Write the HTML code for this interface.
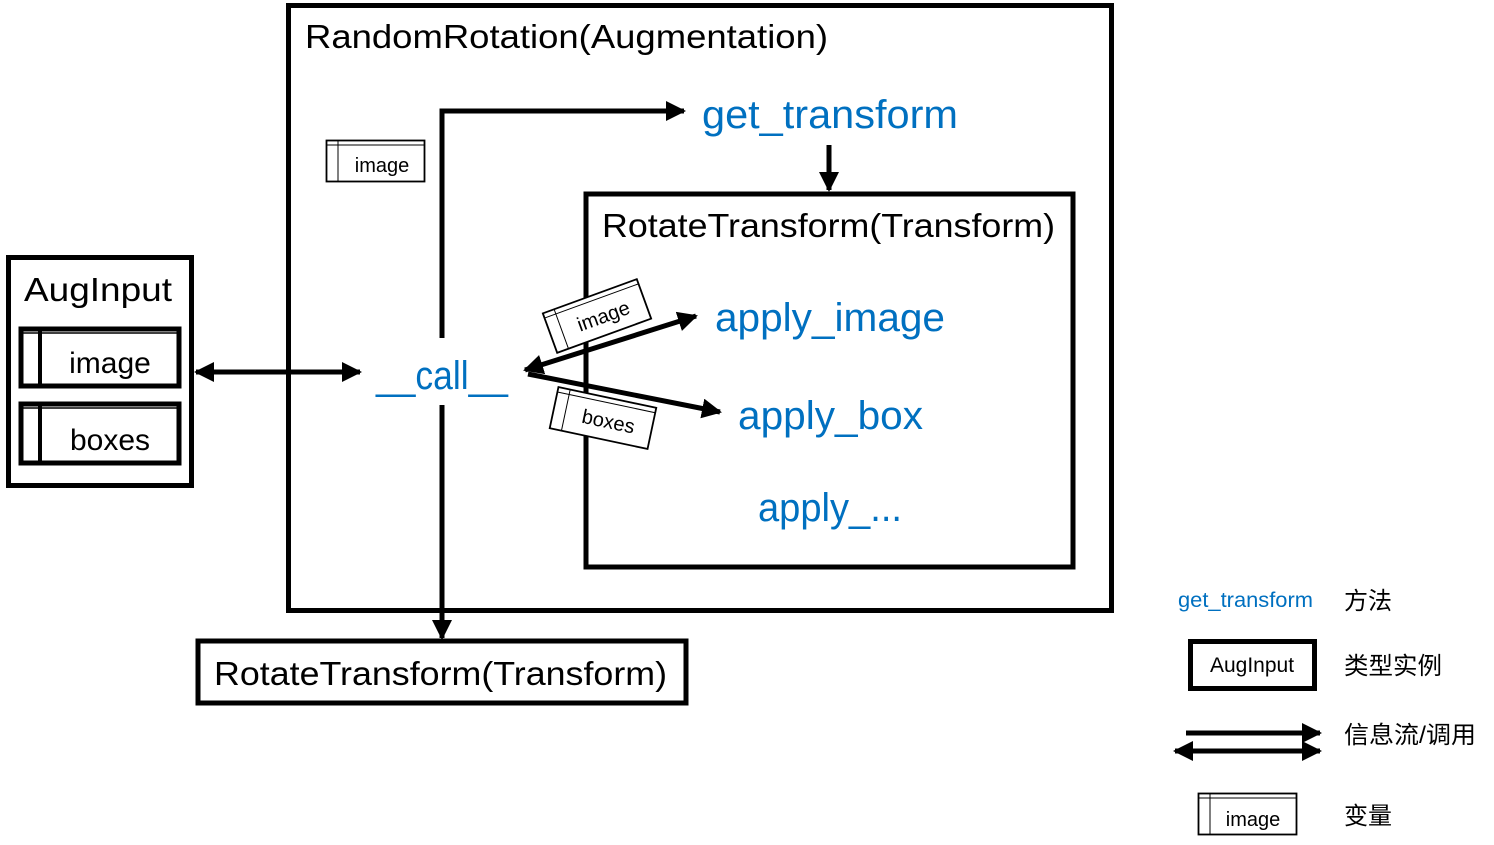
<!DOCTYPE html>
<html><head><meta charset="utf-8"><style>
html,body{margin:0;padding:0;background:#fff;}
svg{display:block;}
text{font-family:"Liberation Sans","Noto Sans CJK SC",sans-serif;}
</style></head><body>
<svg width="1494" height="845" viewBox="0 0 1494 845" xmlns="http://www.w3.org/2000/svg">
<defs>
<marker id="ah" viewBox="0 0 10 10" refX="9" refY="5" markerWidth="4" markerHeight="4" orient="auto-start-reverse" markerUnits="strokeWidth">
<path d="M0,0 L10,5 L0,10 z" fill="#000"/></marker>
</defs>
<g fill="none" stroke="#000">
<rect x="288.5" y="5.5" width="823" height="605" stroke-width="5"/>
<rect x="8.5" y="257.5" width="183" height="228" stroke-width="5"/>
<rect x="21" y="329" width="158" height="57" stroke-width="5"/>
<line x1="21" y1="333" x2="179" y2="333" stroke-width="1.5"/>
<line x1="40" y1="329" x2="40" y2="386" stroke-width="4"/>
<rect x="21" y="404" width="158" height="59" stroke-width="5"/>
<line x1="21" y1="408" x2="179" y2="408" stroke-width="1.5"/>
<line x1="40" y1="404" x2="40" y2="463" stroke-width="4"/>
<rect x="586" y="194" width="487" height="373" stroke-width="5"/>
<rect x="198" y="641" width="488" height="62" stroke-width="5"/>
<rect x="326.5" y="140.5" width="98" height="41" stroke-width="1.8"/>
<line x1="326.5" y1="145" x2="424.5" y2="145" stroke-width="1"/>
<line x1="338" y1="140.5" x2="338" y2="181.5" stroke-width="1"/>
<rect x="1190.5" y="641.5" width="124" height="47" stroke-width="5"/>
<rect x="1198.5" y="793.5" width="98" height="41" stroke-width="1.8"/>
<line x1="1198.5" y1="798" x2="1296.5" y2="798" stroke-width="1"/>
<line x1="1210" y1="793.5" x2="1210" y2="834.5" stroke-width="1"/>
<polyline points="442,338 442,111 684,111" stroke-width="5" marker-end="url(#ah)"/>
<line x1="442" y1="405" x2="442" y2="638" stroke-width="5" marker-end="url(#ah)"/>
<line x1="829" y1="145" x2="829" y2="190" stroke-width="5" marker-end="url(#ah)"/>
<line x1="196" y1="372" x2="360" y2="372" stroke-width="5" marker-start="url(#ah)" marker-end="url(#ah)"/>
<line x1="525" y1="370" x2="696" y2="316" stroke-width="5" marker-start="url(#ah)" marker-end="url(#ah)"/>
<line x1="528" y1="374" x2="720" y2="412" stroke-width="5" marker-end="url(#ah)"/>
<line x1="1186" y1="733" x2="1320" y2="733" stroke-width="5" marker-end="url(#ah)"/>
<line x1="1175" y1="751" x2="1320" y2="751" stroke-width="5" marker-start="url(#ah)" marker-end="url(#ah)"/>
</g>
<g transform="translate(597,316) rotate(-20)">
<rect x="-50" y="-21" width="100" height="42" fill="#fff" stroke="#000" stroke-width="1.8"/>
<line x1="-50" y1="-16" x2="50" y2="-16" stroke="#000" stroke-width="1"/>
<line x1="-38" y1="-21" x2="-38" y2="21" stroke="#000" stroke-width="1"/>
<text x="6" y="9" font-size="20" text-anchor="middle">image</text>
</g>
<g transform="translate(603,418) rotate(12)">
<rect x="-50" y="-21" width="100" height="42" fill="#fff" stroke="#000" stroke-width="1.8"/>
<line x1="-50" y1="-16" x2="50" y2="-16" stroke="#000" stroke-width="1"/>
<line x1="-38" y1="-21" x2="-38" y2="21" stroke="#000" stroke-width="1"/>
<text x="6" y="9" font-size="20" text-anchor="middle">boxes</text>
</g>
<text x="305" y="48" font-size="33" textLength="523" lengthAdjust="spacingAndGlyphs">RandomRotation(Augmentation)</text>
<text x="602" y="237" font-size="33" textLength="453" lengthAdjust="spacingAndGlyphs">RotateTransform(Transform)</text>
<text x="214" y="685" font-size="33" textLength="453" lengthAdjust="spacingAndGlyphs">RotateTransform(Transform)</text>
<text x="24" y="301" font-size="33" textLength="148" lengthAdjust="spacingAndGlyphs">AugInput</text>
<text x="110" y="373" font-size="30" text-anchor="middle">image</text>
<text x="110" y="450" font-size="30" text-anchor="middle">boxes</text>
<text x="382" y="172" font-size="20" text-anchor="middle">image</text>
<g fill="#0070c0">
<text x="702" y="128" font-size="40" textLength="256" lengthAdjust="spacingAndGlyphs">get_transform</text>
<text x="376" y="389" font-size="40" textLength="132" lengthAdjust="spacingAndGlyphs">__call__</text>
<text x="715" y="331" font-size="40" textLength="230" lengthAdjust="spacingAndGlyphs">apply_image</text>
<text x="738" y="429" font-size="40" textLength="185" lengthAdjust="spacingAndGlyphs">apply_box</text>
<text x="758" y="521" font-size="40" textLength="144" lengthAdjust="spacingAndGlyphs">apply_...</text>
<text x="1178" y="607" font-size="21" textLength="135" lengthAdjust="spacingAndGlyphs">get_transform</text>
</g>
<text x="1252" y="672" font-size="21" text-anchor="middle">AugInput</text>
<text x="1253" y="826" font-size="20" text-anchor="middle">image</text>
<text x="1344" y="609" font-size="24" textLength="48" lengthAdjust="spacingAndGlyphs">方法</text>
<text x="1344" y="674" font-size="24" textLength="98" lengthAdjust="spacingAndGlyphs">类型实例</text>
<text x="1344" y="743" font-size="24" textLength="132" lengthAdjust="spacingAndGlyphs">信息流/调用</text>
<text x="1344" y="824" font-size="24" textLength="48" lengthAdjust="spacingAndGlyphs">变量</text>
</svg>
</body></html>
